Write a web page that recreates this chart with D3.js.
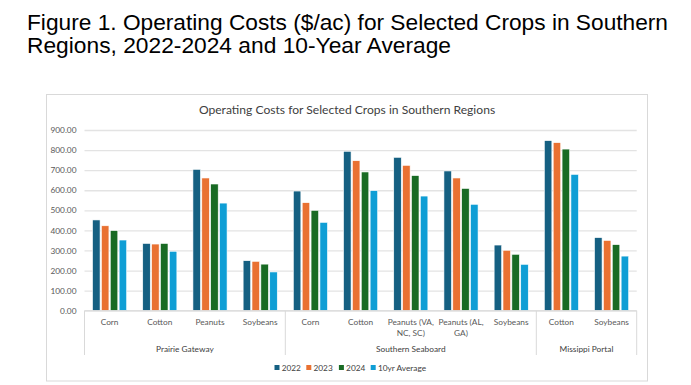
<!DOCTYPE html>
<html>
<head>
<meta charset="utf-8">
<script src="https://cdn.jsdelivr.net/npm/d3@7"></script>
<style>
  body { margin: 0; background: #fff; }
  svg { display: block; }
</style>
</head>
<body>
<div id="chart"></div>
<script>
// categories, grouped by region
const crops = ["Corn", "Cotton", "Peanuts", "Soybeans", "Corn", "Cotton", "Peanuts (VA,|NC, SC)", "Peanuts (AL,|GA)", "Soybeans", "Cotton", "Soybeans"];
const regions = ["Prairie Gateway", "Southern Seaboard", "Missippi Portal"];
const regionOf = [0, 0, 0, 0, 1, 1, 1, 1, 1, 2, 2];

const seriesNames = ["2022", "2023", "2024", "10yr Average"];
const v2022 = [452, 335, 704, 249, 596, 794, 764, 696, 327, 847, 364];
const v2023 = [423, 332, 661, 246, 538, 747, 724, 661, 301, 837, 350];
const v2024 = [399, 335, 631, 232, 500, 691, 673, 609, 281, 805, 329];
const vAvg  = [352, 296, 536, 193, 440, 598, 571, 530, 231, 679, 272];
const yTicks = [0, 100, 200, 300, 400, 500, 600, 700, 800, 900];

const colors = ["#156082", "#E97132", "#196B24", "#0F9ED5"];
const allSeries = [v2022, v2023, v2024, vAvg];

const W = 691, H = 385;
const svg = d3.select("#chart").append("svg").attr("width", W).attr("height", H);

// figure caption
const cap = svg.append("g")
    .attr("font-family", "Liberation Sans, Arial, sans-serif")
    .attr("font-size", 21.2)
    .attr("fill", "#000");
cap.append("text").attr("x", 27).attr("y", 29.5)
    .attr("textLength", 641).attr("lengthAdjust", "spacingAndGlyphs")
    .text("Figure 1. Operating Costs ($/ac) for Selected Crops in Southern");
cap.append("text").attr("x", 27).attr("y", 52.5)
    .attr("textLength", 424).attr("lengthAdjust", "spacingAndGlyphs")
    .text("Regions, 2022-2024 and 10-Year Average");

// chart frame
svg.append("rect")
    .attr("x", 46.5).attr("y", 94.5).attr("width", 601).attr("height", 286.5)
    .attr("fill", "#fff").attr("stroke", "#d9d9d9").attr("stroke-width", 1);

const font = "Lato, 'Noto Sans', sans-serif";
svg.append("text")
    .attr("x", 347).attr("y", 114)
    .attr("text-anchor", "middle")
    .attr("font-family", font).attr("font-size", 12.1)
    .attr("fill", "#404040")
    .text("Operating Costs for Selected Crops in Southern Regions");

const plotL = 84.5, plotR = 636.7, plotT = 130, plotB = 310.7;

const x0 = d3.scaleBand()
    .domain(d3.range(crops.length))
    .range([plotL, plotR])
    .paddingInner(0.32)
    .paddingOuter(0.16);
const x1 = d3.scaleBand()
    .domain(d3.range(seriesNames.length))
    .range([0, x0.bandwidth()])
    .paddingInner(0.15);
const y = d3.scaleLinear().domain([0, 900]).range([plotB, plotT]);

// gridlines + y labels
const yAxis = svg.append("g")
    .attr("transform", `translate(${plotL},0)`)
    .call(d3.axisLeft(y).tickValues(yTicks).tickSize(-(plotR - plotL)).tickFormat(d3.format(".2f")).tickPadding(8));
yAxis.select(".domain").remove();
yAxis.selectAll(".tick line").attr("stroke", "#e3e3e3").attr("stroke-width", 1.3);
yAxis.selectAll(".tick text")
    .attr("font-family", font).attr("font-size", 8.3).attr("fill", "#595959");

// bars
const groups = svg.append("g").selectAll("g")
    .data(crops.map((c, i) => i))
    .join("g")
    .attr("transform", i => `translate(${x0(i)},0)`);
groups.selectAll("rect")
    .data(i => allSeries.map((s, k) => ({ k, v: s[i] })))
    .join("rect")
    .attr("x", d => x1(d.k))
    .attr("y", d => y(d.v))
    .attr("width", x1.bandwidth())
    .attr("height", d => y(0) - y(d.v))
    .attr("fill", d => colors[d.k])
    .attr("stroke", "#fff")
    .attr("stroke-width", 0.6);

// category axis line and region separators
const step = x0.step();
const edge = i => x0(i) - x0.paddingInner() * step / 2;
svg.append("line")
    .attr("x1", plotL).attr("x2", plotR).attr("y1", plotB).attr("y2", plotB)
    .attr("stroke", "#d9d9d9").attr("stroke-width", 1);
const sepIdx = [0, 4, 9, crops.length];
sepIdx.forEach(i => {
    const xx = i === crops.length ? plotR : (i === 0 ? plotL : edge(i));
    svg.append("line")
        .attr("x1", xx).attr("x2", xx).attr("y1", plotB).attr("y2", 355)
        .attr("stroke", "#d9d9d9").attr("stroke-width", 1);
});

// crop labels
crops.forEach((c, i) => {
    const t = svg.append("text")
        .attr("text-anchor", "middle")
        .attr("font-family", font).attr("font-size", 8.3).attr("fill", "#595959");
    c.split("|").forEach((line, j) => {
        t.append("tspan").attr("x", x0(i) + x0.bandwidth() / 2).attr("y", 325 + j * 11).text(line);
    });
});

// region labels
regions.forEach((r, ri) => {
    const idx = d3.range(crops.length).filter(i => regionOf[i] === ri);
    const a = ri === 0 ? plotL : edge(idx[0]);
    const last = idx[idx.length - 1];
    const b = last === crops.length - 1 ? plotR : edge(last + 1);
    svg.append("text")
        .attr("x", (a + b) / 2).attr("y", 352)
        .attr("text-anchor", "middle")
        .attr("font-family", font).attr("font-size", 8.3).attr("fill", "#404040")
        .text(r);
});

// legend
const legend = svg.append("g").attr("transform", "translate(274.5,368)");
const legX = [0, 31.8, 64.4, 96.2];
seriesNames.forEach((s, k) => {
    const g = legend.append("g").attr("transform", `translate(${legX[k]},0)`);
    g.append("rect").attr("x", 0).attr("y", -3).attr("width", 5).attr("height", 5).attr("fill", colors[k]);
    g.append("text").attr("x", 7.2).attr("y", 3)
        .attr("font-family", font).attr("font-size", 8.3).attr("fill", "#404040")
        .text(s);
});
</script>
</body>
</html>
